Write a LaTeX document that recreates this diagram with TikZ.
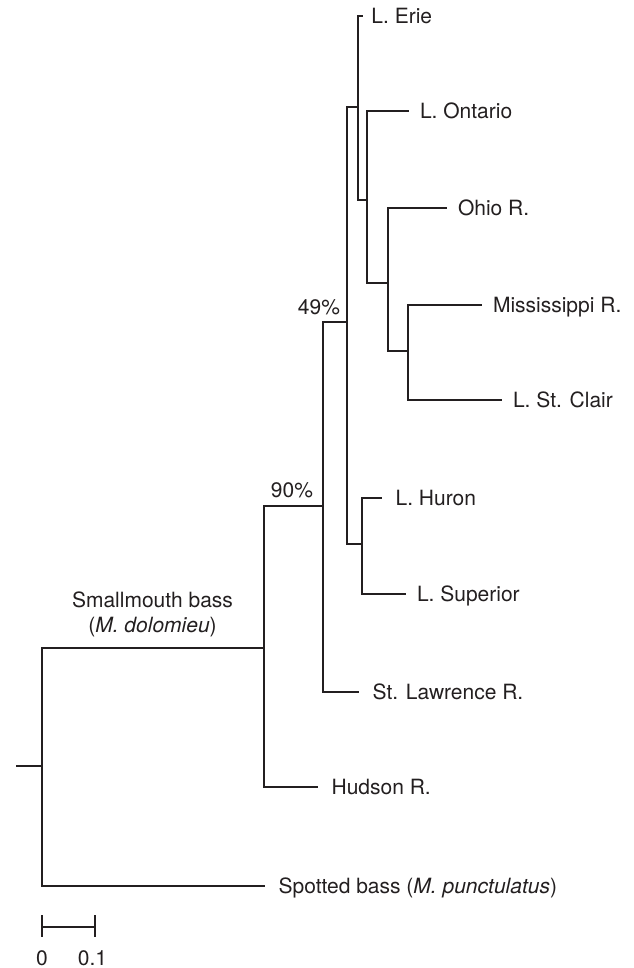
\documentclass[tikz,border=0pt]{standalone}
\usepackage{fontspec}
\setmainfont{TeX Gyre Heros}
\usetikzlibrary{positioning}

\definecolor{ink}{HTML}{231F20}

\begin{document}
\begin{tikzpicture}[x=0.5pt, y=-0.5pt, line width=1pt, draw=ink, text=ink,
  font=\fontsize{10.5}{12.5}\selectfont,
  leaf/.style={anchor=west, inner sep=0pt, text height=0.72em, text depth=0pt},
  pct/.style={anchor=base east, inner sep=0pt}]

  \useasboundingbox (0,0) rectangle (633,968);

  % Gap between branch tips and labels
  \def\ga{5pt}
  \def\gb{6.3pt}

  % Internal nodes (x = distance, y = height)
  \coordinate (root) at (16,766);
  \coordinate (nR) at (42,766);
  \coordinate (nH) at (264,648);
  \coordinate (nG) at (323,506);
  \coordinate (nE) at (347,322);
  \coordinate (nA) at (358,107);
  \coordinate (nB) at (367,200);
  \coordinate (nC) at (388,283);
  \coordinate (nD) at (408,351);
  \coordinate (nF) at (362,544);

  % Branch tips
  \coordinate (tErie) at (363,16);
  \coordinate (tOntario) at (409,111);
  \coordinate (tOhio) at (447,208);
  \coordinate (tMiss) at (482,305);
  \coordinate (tClair) at (502,400);
  \coordinate (tHuron) at (382,498);
  \coordinate (tSuperior) at (406,594);
  \coordinate (tLawrence) at (359,692);
  \coordinate (tHudson) at (318,787);
  \coordinate (tSpotted) at (265,886);

  % Branches
  \draw (root) -- (nR);
  \draw (nR) |- (nH);
  \draw (nR) |- (tSpotted);
  \draw (nH) |- (nG);
  \draw (nH) |- (tHudson);
  \draw (nG) |- (nE);
  \draw (nG) |- (tLawrence);
  \draw (nE) |- (nA);
  \draw (nE) |- (nF);
  \draw (nA) |- (tErie);
  \draw (nA) |- (nB);
  \draw (nB) |- (tOntario);
  \draw (nB) |- (nC);
  \draw (nC) |- (tOhio);
  \draw (nC) |- (nD);
  \draw (nD) |- (tMiss);
  \draw (nD) |- (tClair);
  \draw (nF) |- (tHuron);
  \draw (nF) |- (tSuperior);

  % Leaf labels
  \node[leaf, right=3.7pt of tErie] (lErie) {L. Erie};
  \node[leaf, right=\ga of tOntario] (lOntario) {L. Ontario};
  \node[leaf, right=\ga of tOhio] (lOhio) {Ohio R.};
  \node[leaf, right=\ga of tMiss] (lMiss) {Mississippi R.};
  \node[leaf, right=\ga of tClair] (lClair) {L. St. Clair};
  \node[leaf, right=\gb of tHuron] (lHuron) {L. Huron};
  \node[leaf, right=\ga of tSuperior] (lSuperior) {L. Superior};
  \node[leaf, right=\gb of tLawrence] (lLawrence) {St. Lawrence R.};
  \node[leaf, right=\gb of tHudson] (lHudson) {Hudson R.};
  \node[leaf, right=\gb of tSpotted] (lSpotted) {Spotted bass (\textit{M. punctulatus})};

  % Bootstrap values
  \node[pct] (p49) at ([xshift=-3pt, yshift=4pt]nE) {49\%};
  \node[pct] (p90) at ([xshift=-4.5pt, yshift=4.5pt]nG) {90\%};

  % Species clade label
  \node[align=center, inner sep=0pt] (lSmall) at (152.5,614)
    {Smallmouth bass\\(\textit{M. dolomieu})};

  % Scale bar
  \coordinate (s0) at (42,927);
  \coordinate (s1) at (95,927);
  \draw (s0) -- (s1);
  \draw ([yshift=6pt]s0) -- ([yshift=-5pt]s0);
  \draw ([yshift=6pt]s1) -- ([yshift=-5pt]s1);
  \node[inner sep=0pt] (z0) at (42,958) {0};
  \node[inner sep=0pt] (z1) at (92.5,958) {0.1};

\end{tikzpicture}
\end{document}
